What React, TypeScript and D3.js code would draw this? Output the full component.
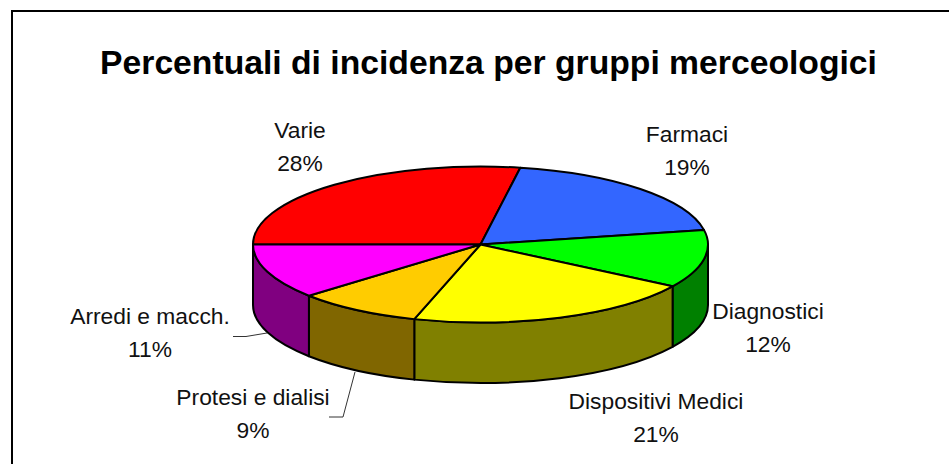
import React from 'react';
import * as d3 from 'd3';

const categories = ['Varie', 'Farmaci', 'Diagnostici', 'Dispositivi Medici', 'Protesi e dialisi', 'Arredi e macch.'];
const values = [27.8, 19.2, 12, 20.7, 8.9, 11.4];
const topColors = ['#ff0000', '#3366ff', '#00ff00', '#ffff00', '#ffcc00', '#ff00ff'];
const sideColors = ['#800000', '#1a3380', '#008000', '#808000', '#806600', '#800080'];

// label anchor per category: centre x, baseline of the first line
const labelPos: Record<string, [number, number]> = {
  'Varie': [300, 138],
  'Farmaci': [687, 142],
  'Diagnostici': [768, 319],
  'Dispositivi Medici': [656, 409],
  'Protesi e dialisi': [253, 405],
  'Arredi e macch.': [150, 324],
};

const leaders: [number, number][][] = [
  [[233, 336.5], [246, 336.5], [267, 333]],
  [[329, 417], [343, 417], [355, 372]],
];

const width = 949;
const height = 464;
const cx = 480.5;
const cy = 244.5;
const rx = 227.5;
const ry = 78;
const depth = 60.5;

const pie = d3.pie<number>().sort(null).startAngle(-Math.PI / 2).endAngle(1.5 * Math.PI);
const slices = pie(values);
const arc = d3.arc<d3.PieArcDatum<number>>().innerRadius(0).outerRadius(rx);
const fmt = d3.format('.0f');
const total = d3.sum(values);
const px = (a: number) => cx + rx * Math.sin(a);
const py = (a: number) => cy - ry * Math.cos(a);

function wallPath(a0: number, a1: number) {
  const s = Math.max(a0, Math.PI / 2);
  const e = Math.min(a1, 1.5 * Math.PI);
  if (e <= s) return null;
  return `M${px(s)},${py(s)}A${rx},${ry} 0 0 1 ${px(e)},${py(e)}` +
    `L${px(e)},${py(e) + depth}A${rx},${ry} 0 0 0 ${px(s)},${py(s) + depth}Z`;
}

const line = d3.line();

export default function App() {
  return (
    <svg width={width} height={height} style={{ position: 'absolute', left: 0, top: 0, display: 'block', background: '#fff' }}
      fontFamily="'Liberation Sans', Arial, sans-serif">
      <path d={`M12,${height}V11H${width}`} fill="none" stroke="#000" strokeWidth={2} />
      <text x={488.5} y={74} textAnchor="middle" fontWeight="bold" fontSize={33.7}>
        Percentuali di incidenza per gruppi merceologici
      </text>
      {slices.map((d, i) => {
        const w = wallPath(d.startAngle, d.endAngle);
        return w && <path key={i} d={w} fill={sideColors[i]} stroke="#000" strokeWidth={2} strokeLinejoin="round" />;
      })}
      <g transform={`translate(${cx},${cy}) scale(1,${ry / rx})`}>
        {slices.map((d, i) => (
          <path key={i} d={arc(d) as string} fill={topColors[i]} stroke="#000" strokeWidth={2}
            strokeLinejoin="round" vectorEffect="non-scaling-stroke" />
        ))}
      </g>
      {leaders.map((pts, i) => (
        <path key={i} d={line(pts) as string} fill="none" stroke="#333" strokeWidth={1} />
      ))}
      {categories.map((c, i) => (
        <text key={c} textAnchor="middle" fontSize={22.8} fill="#111">
          <tspan x={labelPos[c][0]} y={labelPos[c][1]}>{c}</tspan>
          <tspan x={labelPos[c][0]} y={labelPos[c][1] + 33}>{fmt((values[i] / total) * 100)}%</tspan>
        </text>
      ))}
    </svg>
  );
}
